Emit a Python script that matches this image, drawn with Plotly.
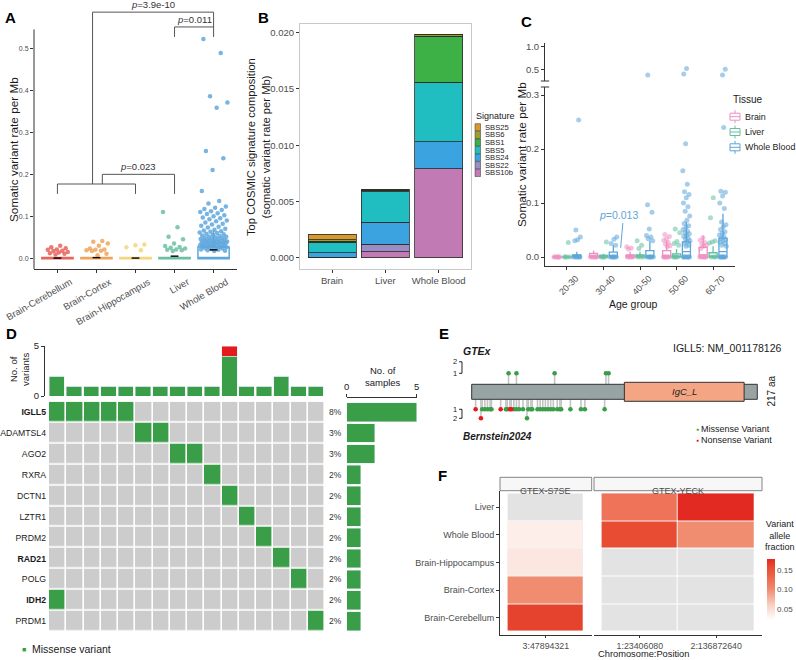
import plotly.graph_objects as go

W, H = 796, 660
FONT = "Liberation Sans, Arial, Helvetica, sans-serif"
GT = "#4D4D4D"   # tick label grey
AX = "#333333"   # axis line colour


def X(px):
    return px / W


def Y(py):
    return 1 - py / H


def jit(n, width, phase=0.0):
    # deterministic horizontal spread for dot positions (not values)
    return [(((k + 1) * 0.6180339887 + phase) % 1.0 - 0.5) * 2 * width for k in range(n)]


# ---------------- Panel A data ----------------
a_tissues = ["Brain-Cerebellum", "Brain-Cortex", "Brain-Hippocampus", "Liver", "Whole Blood"]
a_colors = ["#E7635B", "#EFA45B", "#F3D67D", "#6BC0A1", "#5EA7DD"]
a_q3 = [0.003, 0.003, 0.003, 0.003, 0.028]
a_median = [0.0, 0.0, 0.0, 0.0, 0.003]
a_upper = [0.003, 0.003, 0.003, 0.003, 0.068]
a_mean = [0.0015, 0.0025, 0.0015, 0.006, 0.021]
a_pts_cerebellum = [0.031, 0.027, 0.025, 0.022, 0.021, 0.019, 0.018, 0.016, 0.015, 0.013, 0.012, 0.010]
a_pts_cortex = [0.042, 0.040, 0.036, 0.031, 0.024, 0.022, 0.021, 0.020, 0.019, 0.018, 0.012, 0.008]
a_pts_hippocampus = [0.034, 0.032, 0.027, 0.020]
a_pts_liver = [0.111, 0.075, 0.052, 0.046, 0.036, 0.030, 0.028, 0.026, 0.024, 0.022, 0.021, 0.020, 0.018]
a_pts_blood = [0.522, 0.489, 0.386, 0.371, 0.359, 0.256, 0.239, 0.211, 0.161, 0.137, 0.131, 0.124,
               0.121, 0.118, 0.116, 0.113, 0.111, 0.108, 0.106, 0.103, 0.101, 0.098, 0.096, 0.094,
               0.091, 0.089, 0.086, 0.083, 0.081, 0.078, 0.076, 0.074, 0.071, 0.069, 0.067, 0.065,
               0.064, 0.062, 0.061, 0.059, 0.058, 0.057, 0.055, 0.054, 0.053, 0.052, 0.051, 0.050,
               0.049, 0.048, 0.047, 0.046, 0.045, 0.045, 0.044, 0.043, 0.042, 0.042, 0.041, 0.040,
               0.040, 0.039, 0.038, 0.038, 0.037, 0.036, 0.036, 0.035, 0.034, 0.034, 0.033, 0.032,
               0.032, 0.031, 0.030, 0.030, 0.029, 0.028, 0.028, 0.027, 0.026, 0.025, 0.024, 0.023,
               0.022, 0.021, 0.020, 0.019, 0.018]
a_points = [a_pts_cerebellum, a_pts_cortex, a_pts_hippocampus, a_pts_liver, a_pts_blood]
a_pvals = ["p=3.9e-10", "p=0.011", "p=0.023"]

# ---------------- Panel B data ----------------
b_tissues = ["Brain", "Liver", "Whole Blood"]
b_signatures = ["SBS10b", "SBS22", "SBS24", "SBS5", "SBS1", "SBS6", "SBS25"]  # bottom -> top
b_colors = ["#C27AB5", "#9C8CC6", "#3BA4E0", "#20BEC1", "#3DB146", "#9E9E30", "#D89A2B"]
b_sbs10b = [0.00003, 0.00053, 0.0079]
b_sbs22 = [0.00002, 0.00067, 0.0]
b_sbs24 = [0.00039, 0.00195, 0.0024]
b_sbs5 = [0.00094, 0.00273, 0.0053]
b_sbs1 = [0.00010, 0.00010, 0.0041]
b_sbs6 = [0.00010, 0.00005, 0.00010]
b_sbs25 = [0.00050, 0.00005, 0.00005]
b_values = [b_sbs10b, b_sbs22, b_sbs24, b_sbs5, b_sbs1, b_sbs6, b_sbs25]

# ---------------- Panel C data ----------------
c_ages = ["20-30", "30-40", "40-50", "50-60", "60-70"]
c_tissues = ["Brain", "Liver", "Whole Blood"]
c_colors = ["#EE8FC3", "#66C0A3", "#5DA5DA"]
c_brain_q3 = [0.0005, 0.007, 0.004, 0.012, 0.018]
c_brain_med = [0.0, 0.0, 0.0, 0.002, 0.004]
c_brain_up = [0.001, 0.012, 0.010, 0.030, 0.040]
c_liver_q3 = [0.0005, 0.003, 0.004, 0.006, 0.008]
c_liver_med = [0.0, 0.0, 0.0, 0.0, 0.0]
c_liver_up = [0.001, 0.006, 0.010, 0.015, 0.020]
c_blood_q3 = [0.004, 0.009, 0.012, 0.028, 0.035]
c_blood_med = [0.0, 0.0, 0.002, 0.010, 0.010]
c_blood_up = [0.010, 0.022, 0.030, 0.065, 0.080]
c_brain_pts = [
    [0, 0, 0, 0, 0, 0],
    [0, 0, 0, 0, 0, 0],
    [0.019, 0.017, 0.015, 0, 0, 0, 0, 0],
    [0.042, 0.038, 0.034, 0.031, 0.027, 0.024, 0.021, 0.019, 0, 0, 0, 0, 0, 0],
    [0.036, 0.031, 0.027, 0.024, 0.022, 0.020, 0.016, 0, 0, 0, 0, 0, 0],
]
c_liver_pts = [
    [0.027, 0, 0, 0, 0],
    [0.028, 0, 0, 0, 0],
    [0.030, 0.022, 0.016, 0, 0, 0],
    [0.052, 0.045, 0.029, 0.025, 0.022, 0, 0, 0, 0],
    [0.110, 0.073, 0.030, 0.028, 0.026, 0, 0, 0],
]
c_blood_pts = [
    [0.254, 0.050, 0.037, 0.032, 0.030, 0, 0, 0, 0, 0, 0],
    [0.037, 0.033, 0.025, 0.022, 0, 0, 0, 0, 0, 0],
    [0.097, 0.083, 0.052, 0.040, 0.037, 0.034, 0.030, 0, 0, 0, 0, 0, 0],
    [0.210, 0.160, 0.135, 0.121, 0.116, 0.110, 0.100, 0.093, 0.085, 0.076, 0.068, 0.062, 0.058,
     0.055, 0.051, 0.048, 0.045, 0.043, 0.040, 0.038, 0.035, 0.033, 0.030, 0.028, 0.025, 0.022,
     0.020, 0, 0, 0, 0, 0, 0, 0],
    [0.240, 0.122, 0.120, 0.113, 0.100, 0.090, 0.065, 0.060, 0.056, 0.051, 0.047, 0.044, 0.041,
     0.038, 0.035, 0.032, 0.030, 0.028, 0.025, 0.022, 0.020, 0, 0, 0, 0, 0, 0, 0],
]
c_blood_high = [[], [], [0.374], [0.520, 0.396], [0.500, 0.374]]

# ---------------- Panel D data ----------------
d_genes = ["IGLL5", "ADAMTSL4", "AGO2", "RXRA", "DCTN1", "LZTR1", "PRDM2", "RAD21", "POLG", "IDH2", "PRDM1"]
d_bold = ["IGLL5", "RAD21", "IDH2"]
d_pct = ["8%", "3%", "3%", "2%", "2%", "2%", "2%", "2%", "2%", "2%", "2%"]
d_samples = [5, 2, 2, 1, 1, 1, 1, 1, 1, 1, 1]
d_mut_cols = [[0, 1, 2, 3, 4], [5, 6], [7, 8], [9], [10], [11], [12], [13], [14], [0], [15]]
d_missense_per_sample = [2, 1, 1, 1, 1, 1, 1, 1, 1, 1, 4, 1, 1, 2, 1, 1]
d_other_per_sample = [0, 0, 0, 0, 0, 0, 0, 0, 0, 0, 1, 0, 0, 0, 0, 0]

# ---------------- Panel E data ----------------
e_length = 217
e_domain = [116, 207]
e_gtex_pos = [28, 34, 63, 102, 104]
e_gtex_cnt = [1, 1, 1, 1, 1]
e_bern_mis_pos = [8, 10, 12, 14, 15, 26, 27, 32, 34, 36, 39, 42, 43, 45, 46, 50, 52, 54, 56, 58,
                  60, 62, 65, 67, 68, 75, 83, 86, 101]
e_bern_mis_cnt = [1, 1, 1, 1, 1, 1, 1, 1, 1, 1, 1, 2, 1, 1, 1, 1, 1, 1, 1, 1,
                  1, 1, 1, 1, 1, 1, 1, 1, 1]
e_bern_non_pos = [3, 7, 22, 29, 30]
e_bern_non_cnt = [1, 2, 1, 1, 1]

# ---------------- Panel F data ----------------
f_rows = ["Brain-Cerebellum", "Brain-Cortex", "Brain-Hippocampus", "Whole Blood", "Liver"]
f_s7se_pos = ["3:47894321"]
f_yeck_pos = ["1:23406080", "2:136872640"]
f_s7se_vaf = [0.162, 0.100, 0.042, 0.036, None]
f_yeck_vaf_1 = [None, None, None, 0.155, 0.120]
f_yeck_vaf_2 = [None, None, None, 0.100, 0.178]

GREEN = "#3A9D47"
RED = "#E41A1C"

fig = go.Figure()
NOHOVER = dict(hoverinfo="skip", showlegend=False)

# ======== Panel A ========
for i in range(len(a_tissues)):
    col = a_colors[i]
    fig.add_trace(go.Box(x=[i], q1=[0], median=[a_median[i]], q3=[a_q3[i]], lowerfence=[0],
                         upperfence=[a_upper[i]], width=0.8, whiskerwidth=0, boxpoints=False,
                         line=dict(color=col, width=1.5), fillcolor="rgba(255,255,255,0)",
                         xaxis="x", yaxis="y", **NOHOVER))
    pts = a_points[i]
    w = 0.36 if i == 4 else 0.3
    fig.add_trace(go.Scatter(x=[i + j for j in jit(len(pts), w, i * 0.13)], y=pts, mode="markers",
                             marker=dict(color=col, size=4.5, opacity=0.85, line=dict(width=0)),
                             xaxis="x", yaxis="y", **NOHOVER))
    fig.add_trace(go.Scatter(x=[i - 0.1, i + 0.1], y=[a_mean[i], a_mean[i]], mode="lines",
                             line=dict(color="black", width=1.4), xaxis="x", yaxis="y", **NOHOVER))

# ======== Panel B ========
for s in range(len(b_signatures)):
    fig.add_trace(go.Bar(x=[0, 1, 2], y=b_values[s], width=0.9, marker=dict(color=b_colors[s],
                         line=dict(color="#2b2b2b", width=0.8)), xaxis="x2", yaxis="y2", **NOHOVER))

# ======== Panel C ========
c_off = [-0.27, 0.0, 0.27]
c_q3 = [c_brain_q3, c_liver_q3, c_blood_q3]
c_med = [c_brain_med, c_liver_med, c_blood_med]
c_up = [c_brain_up, c_liver_up, c_blood_up]
c_pts = [c_brain_pts, c_liver_pts, c_blood_pts]
for t in range(3):
    col = c_colors[t]
    xs, ys = [], []
    for g in range(5):
        vals = c_pts[t][g]
        xs += [g + c_off[t] + j for j in jit(len(vals), 0.1, g * 0.21 + t * 0.07)]
        ys += vals
    fig.add_trace(go.Scatter(x=xs, y=ys, mode="markers", marker=dict(color=col, size=5, opacity=0.55),
                             xaxis="x3", yaxis="y3", **NOHOVER))
    fig.add_trace(go.Box(x=[g + c_off[t] for g in range(5)], q1=[0] * 5, median=c_med[t], q3=c_q3[t],
                         lowerfence=[0] * 5, upperfence=c_up[t], width=0.22, whiskerwidth=0,
                         boxpoints=False, line=dict(color=col, width=1.3),
                         fillcolor="rgba(255,255,255,0)", xaxis="x3", yaxis="y3", **NOHOVER))
hx, hy = [], []
for g in range(5):
    vals = c_blood_high[g]
    hx += [g + c_off[2] + j for j in jit(len(vals), 0.1, g * 0.3)]
    hy += vals
fig.add_trace(go.Scatter(x=hx, y=hy, mode="markers", marker=dict(color=c_colors[2], size=5, opacity=0.55),
                         xaxis="x3", yaxis="y4", **NOHOVER))

# ======== Panel D ========
fig.add_trace(go.Bar(x=list(range(16)), y=d_missense_per_sample, width=0.886, marker=dict(color=GREEN),
                     xaxis="x5", yaxis="y5", **NOHOVER))
fig.add_trace(go.Bar(x=list(range(16)), y=d_other_per_sample, width=0.886, marker=dict(color=RED),
                     xaxis="x5", yaxis="y5", **NOHOVER))
d_z = [[1 if c in cols else 0 for c in range(16)] for cols in d_mut_cols]
fig.add_trace(go.Heatmap(z=d_z, x=list(range(16)), y=list(range(len(d_genes))), zmin=0, zmax=1,
                         colorscale=[[0, "#CCCCCC"], [0.5, "#CCCCCC"], [0.5, GREEN], [1, GREEN]],
                         showscale=False, xgap=1.6, ygap=1.6, xaxis="x6", yaxis="y6", hoverinfo="skip"))
fig.add_trace(go.Bar(x=d_samples, y=list(range(len(d_genes))), orientation="h", width=0.9,
                     marker=dict(color=GREEN), xaxis="x7", yaxis="y7", **NOHOVER))

# ======== Panel E ========
def head_y(cnt, top):
    return (0.7 + 1.15 * cnt) if top else -(0.85 + 0.9 * cnt)

stem_x, stem_y = [], []
for p, c in zip(e_gtex_pos, e_gtex_cnt):
    stem_x += [p, p, None]
    stem_y += [0.75, head_y(c, True), None]
for p, c in zip(e_bern_mis_pos + e_bern_non_pos, e_bern_mis_cnt + e_bern_non_cnt):
    stem_x += [p, p, None]
    stem_y += [-0.75, head_y(c, False), None]
fig.add_trace(go.Scatter(x=stem_x, y=stem_y, mode="lines", line=dict(color="#C4C4C4", width=1.6),
                         xaxis="x8", yaxis="y8", **NOHOVER))
fig.add_trace(go.Scatter(x=e_gtex_pos, y=[head_y(c, True) for c in e_gtex_cnt], mode="markers",
                         marker=dict(color=GREEN, size=4.6), xaxis="x8", yaxis="y8", **NOHOVER))
fig.add_trace(go.Scatter(x=e_bern_mis_pos, y=[head_y(c, False) for c in e_bern_mis_cnt], mode="markers",
                         marker=dict(color=GREEN, size=4.6), xaxis="x8", yaxis="y8", **NOHOVER))
fig.add_trace(go.Scatter(x=e_bern_non_pos, y=[head_y(c, False) for c in e_bern_non_cnt], mode="markers",
                         marker=dict(color=RED, size=4.6), xaxis="x8", yaxis="y8", **NOHOVER))

# ======== Panel F ========
f_bg1 = [[1] for _ in f_rows]
f_bg2 = [[1, 1] for _ in f_rows]
grey_cs = [[0, "#E3E3E3"], [1, "#E3E3E3"]]
fig.add_trace(go.Heatmap(z=f_bg1, x=[0], y=list(range(5)), colorscale=grey_cs, showscale=False,
                         xgap=1, ygap=1, xaxis="x9", yaxis="y9", hoverinfo="skip"))
fig.add_trace(go.Heatmap(z=[[v] for v in f_s7se_vaf], x=[0], y=list(range(5)), coloraxis="coloraxis",
                         xgap=1, ygap=1, xaxis="x9", yaxis="y9", hoverinfo="skip"))
fig.add_trace(go.Heatmap(z=f_bg2, x=[0, 1], y=list(range(5)), colorscale=grey_cs, showscale=False,
                         xgap=1, ygap=1, xaxis="x10", yaxis="y10", hoverinfo="skip"))
fig.add_trace(go.Heatmap(z=[[a, b] for a, b in zip(f_yeck_vaf_1, f_yeck_vaf_2)], x=[0, 1], y=list(range(5)),
                         coloraxis="coloraxis", xgap=1, ygap=1, xaxis="x10", yaxis="y10", hoverinfo="skip"))

# ---------------- axes ----------------
base_ax = dict(showgrid=False, zeroline=False, ticks="outside", ticklen=3, tickcolor=AX,
               linecolor=AX, linewidth=1, tickfont=dict(size=9, color=GT))


def ax(**kw):
    d = dict(base_ax)
    d.update(kw)
    return d


layout_axes = dict(
    xaxis=ax(domain=[X(34), X(237)], range=[-0.6, 4.6], anchor="y", tickvals=list(range(5)),
             ticktext=a_tissues, tickangle=-30, showline=True, tickfont=dict(size=9.5, color=GT),
             ticklabelshift=13),
    yaxis=ax(domain=[Y(269), Y(3)], range=[-0.0245, 0.6077], anchor="x", showline=False,
             tickvals=[0, 0.1, 0.2, 0.3, 0.4, 0.5], ticktext=["0.0", "0.1", "0.2", "0.3", "0.4", "0.5"],
             tickfont=dict(size=7, color=GT)),
    xaxis2=ax(domain=[X(300), X(470.7)], range=[-0.6, 2.6], anchor="y2", tickvals=[0, 1, 2],
              ticktext=b_tissues, showline=True, mirror=True, linecolor="#C9C9C9",
              tickfont=dict(size=9.5, color=GT)),
    yaxis2=ax(domain=[Y(269), Y(24)], range=[-0.001, 0.02077], anchor="x2", showline=True, mirror=True,
              linecolor="#C9C9C9", tickvals=[0, 0.005, 0.01, 0.015, 0.02],
              ticktext=["0.000", "0.005", "0.010", "0.015", "0.020"], tickfont=dict(size=9.5, color=GT)),
    xaxis3=ax(domain=[X(545), X(735)], range=[-0.6, 4.6], anchor="y3", tickvals=list(range(5)),
              ticktext=c_ages, tickangle=-45, showline=True, tickfont=dict(size=9, color=GT),
              ticklabelshift=9),
    yaxis3=ax(domain=[Y(265.7), Y(87)], range=[-0.016, 0.315], anchor="x3", showline=True,
              tickvals=[0, 0.1, 0.2, 0.3], ticktext=["0.0", "0.1", "0.2", "0.3"],
              tickfont=dict(size=9.5, color=GT)),
    yaxis4=ax(domain=[Y(81), Y(43.3)], range=[0.241, 1.075], anchor="x3", showline=True,
              tickvals=[0.5, 1.0], ticktext=["0.5", "1.0"], tickfont=dict(size=9.5, color=GT)),
    xaxis5=ax(domain=[X(45), X(325.3)], range=[-0.675, 15.556], anchor="y5", visible=False),
    yaxis5=ax(domain=[Y(396), Y(346)], range=[0, 5], anchor="x5", showline=True, tickvals=[0, 5],
              tickfont=dict(size=9.5, color="#222")),
    xaxis6=ax(domain=[X(49), X(325.3)], range=[-0.5, 15.5], anchor="y6", visible=False),
    yaxis6=ax(domain=[Y(631.7), Y(401.7)], range=[10.5, -0.5], anchor="x6", showline=False, ticks="",
              tickvals=list(range(len(d_genes))),
              ticktext=[("<b>%s</b>" % g) if g in d_bold else g for g in d_genes],
              tickfont=dict(size=8.7, color="#1a1a1a"), ticklabelstandoff=2),
    xaxis7=ax(domain=[X(346.7), X(416.7)], range=[0, 5], anchor="free", position=Y(396.7), side="top",
              showline=True, tickvals=[0, 5], tickfont=dict(size=9.5, color="#222")),
    yaxis7=ax(domain=[Y(631.7), Y(401.7)], range=[10.5, -0.5], anchor="x7", visible=False),
    xaxis8=ax(domain=[X(440), X(792)], range=[-24.09, 243.37], anchor="y8", visible=False),
    yaxis8=ax(domain=[Y(445), Y(335)], range=[-5.32, 5.68], anchor="x8", visible=False),
    xaxis9=ax(domain=[X(500), X(591.7)], range=[-0.6, 0.6], anchor="y9", showline=True, tickvals=[0],
              ticktext=f_s7se_pos, tickfont=dict(size=8.8, color=GT), ticklen=2.5),
    yaxis9=ax(domain=[Y(634.5), Y(490.7)], range=[-0.6, 4.6], anchor="x9", showline=True,
              tickvals=list(range(5)), ticktext=f_rows, tickfont=dict(size=9, color=GT)),
    xaxis10=ax(domain=[X(594), X(762)], range=[-0.6, 1.6], anchor="y10", showline=True, tickvals=[0, 1],
               ticktext=f_yeck_pos, tickfont=dict(size=8.8, color=GT), ticklen=2.5),
    yaxis10=ax(domain=[Y(634.5), Y(490.7)], range=[-0.6, 4.6], anchor="x10", showline=False, ticks="",
               showticklabels=False),
)

# ---------------- shapes ----------------
LN = dict(color="#555555", width=1)
shapes = [
    # A: left axis line (panel only, brackets sit above)
    dict(type="line", xref="x domain", x0=0, x1=0, yref="y", y0=-0.0245, y1=0.545, line=dict(color=AX, width=1)),
    # A: significance brackets
    dict(type="path", xref="x", yref="y", path="M 0,0.154 L 0,0.1775 L 2,0.1775 L 2,0.154", line=LN),
    dict(type="path", xref="x", yref="y", path="M 1.15,0.1775 L 1.15,0.2005 L 3,0.2005 L 3,0.154", line=LN),
    dict(type="path", xref="x", yref="y", path="M 0.9,0.1775 L 0.9,0.586 L 4,0.586 L 4,0.5508", line=LN),
    dict(type="path", xref="x", yref="y", path="M 3,0.527 L 3,0.5508 L 4,0.5508 L 4,0.527", line=LN),
    # C: axis break marks
    dict(type="line", xref="x3 domain", x0=-0.022, x1=0.022, yref="y4 domain", y0=0, y1=0, line=dict(color=AX, width=1)),
    dict(type="line", xref="x3 domain", x0=-0.022, x1=0.022, yref="y3 domain", y0=1, y1=1, line=dict(color=AX, width=1)),
    # C: p-value pointer
    dict(type="line", xref="x3", yref="y3", x0=1.53, y0=0.063, x1=1.47, y1=0.017,
         line=dict(color=c_colors[2], width=1)),
    # E: protein and domain
    dict(type="rect", xref="x8", yref="y8", x0=0, x1=e_length, y0=-0.75, y1=0.75,
         fillcolor="#98A4A4", line=dict(color="#333", width=1)),
    dict(type="rect", xref="x8", yref="y8", x0=e_domain[0], x1=e_domain[1], y0=-0.95, y1=0.95,
         fillcolor="#F3A584", line=dict(color="#333", width=1)),
    # E: count scale brackets
    dict(type="path", xref="x8", yref="y8", path="M -9.6,%f L -7.4,%f L -7.4,%f L -9.6,%f" % (
        head_y(2, True), head_y(2, True), head_y(1, True), head_y(1, True)), line=dict(color="#222", width=1)),
    dict(type="path", xref="x8", yref="y8", path="M -9.6,%f L -7.4,%f L -7.4,%f L -9.6,%f" % (
        head_y(1, False), head_y(1, False), head_y(2, False), head_y(2, False)), line=dict(color="#222", width=1)),
    # F: facet strips
    dict(type="rect", xref="x9 domain", x0=0, x1=1, yref="y9 domain", y0=1.0, y1=1.093,
         fillcolor="#F7F7F7", line=dict(color="#666", width=0.8)),
    dict(type="rect", xref="x10 domain", x0=0, x1=1, yref="y10 domain", y0=1.0, y1=1.093,
         fillcolor="#F7F7F7", line=dict(color="#666", width=0.8)),
]

# B legend keys (manual, tight spacing like ggplot)
b_leg_rows = [127.3, 134.9, 142.5, 150.1, 157.7, 165.3, 172.9]
for k, sig_i in enumerate(reversed(range(len(b_signatures)))):
    yc = b_leg_rows[k]
    shapes.append(dict(type="rect", xref="paper", yref="paper", x0=X(475), x1=X(480.5),
                       y0=Y(yc + 3.6), y1=Y(yc - 3.6), fillcolor=b_colors[sig_i],
                       line=dict(color="#333", width=0.5)))

# C legend keys (box glyphs)
c_leg_rows = [116.7, 132.0, 147.3]
for t, yc in enumerate(c_leg_rows):
    col = c_colors[t]
    shapes.append(dict(type="line", xref="paper", yref="paper", x0=X(735), x1=X(735), y0=Y(yc - 6.5),
                       y1=Y(yc + 6.5), line=dict(color=col, width=1)))
    shapes.append(dict(type="rect", xref="paper", yref="paper", x0=X(730), x1=X(740), y0=Y(yc + 3.5),
                       y1=Y(yc - 3.5), fillcolor="white", line=dict(color=col, width=1)))
    shapes.append(dict(type="line", xref="paper", yref="paper", x0=X(730), x1=X(740), y0=Y(yc), y1=Y(yc),
                       line=dict(color=col, width=1)))

# ---------------- annotations ----------------
ann = []


def txt(x, y, s, size=10, color="#1a1a1a", xanchor="center", yanchor="middle", angle=0, **kw):
    ann.append(dict(x=x, y=y, xref="paper", yref="paper", text=s, showarrow=False, xanchor=xanchor,
                    yanchor=yanchor, textangle=angle, font=dict(size=size, color=color), **kw))


# panel letters
for lab, px, py in [("A", 10, 17), ("B", 263, 17), ("C", 526, 21), ("D", 11, 333), ("E", 444, 333), ("F", 442, 475)]:
    txt(X(px), Y(py), "<b>%s</b>" % lab, size=15, color="black")

# A
txt(X(14), Y(150), "Somatic variant rate per Mb", size=11.8, angle=-90)
for s, xx, yy in [(a_pvals[0], 2.45, 0.586), (a_pvals[1], 3.5, 0.5508), (a_pvals[2], 2.075, 0.2005)]:
    ann.append(dict(x=xx, y=yy, xref="x", yref="y", text="<i>p</i>" + s[1:], showarrow=False,
                    yanchor="bottom", yshift=0, font=dict(size=9.5, color="#333")))

# B
txt(X(259), Y(147), "Top COSMIC signature composition<br>(somatic variant rate per Mb)", size=11.2, angle=-90)
txt(X(474.5), Y(116), "Signature", size=9, xanchor="left")
for k, sig_i in enumerate(reversed(range(len(b_signatures)))):
    txt(X(482.5), Y(b_leg_rows[k]), b_signatures[sig_i], size=7.6, xanchor="left")

# C
txt(X(522), Y(155), "Somatic variant rate per Mb", size=11.8, angle=-90)
txt(X(633), Y(304), "Age group", size=10.5)
ann.append(dict(x=1.40, y=0.063, xref="x3", yref="y3", text="<i>p</i>=0.013", showarrow=False,
                yanchor="bottom", font=dict(size=10.5, color=c_colors[2])))
txt(X(730.5), Y(99), "Tissue", size=10, xanchor="left")
for t, yc in enumerate(c_leg_rows):
    txt(X(743), Y(yc), c_tissues[t], size=8.9, xanchor="left")

# D
txt(X(19), Y(369), "No. of<br>variants", size=9.5, angle=-90)
txt(X(383), Y(376), "No. of<br>samples", size=9.5)
for i, p in enumerate(d_pct):
    ann.append(dict(x=1.0, y=i, xref="x6 domain", yref="y6", text=p, showarrow=False, xanchor="left",
                    xshift=1.5, font=dict(size=8.5, color="#333")))
txt(X(20), Y(649), '<span style="color:%s">■</span>' % GREEN, size=7, xanchor="left")
txt(X(29.5), Y(649), "Missense variant", size=10.5, xanchor="left")

# E
txt(X(460.5), Y(351), "<b><i>GTEx</i></b>", size=10.5, xanchor="left")
txt(X(460.5), Y(436), "<b><i>Bernstein2024</i></b>", size=10, xanchor="left")
txt(X(784), Y(348), "IGLL5: NM_001178126", size=10.5, xanchor="right")
txt(X(770.5), Y(391), "217 aa", size=10, angle=-90)
ann.append(dict(x=(e_domain[0] + e_domain[1]) / 2, y=0, xref="x8", yref="y8", text="<i>IgC_L</i>",
                showarrow=False, font=dict(size=9.5, color="#222")))
for lab, yy in [("2", head_y(2, True)), ("1", head_y(1, True)), ("1", head_y(1, False)), ("2", head_y(2, False))]:
    ann.append(dict(x=-12.5, y=yy, xref="x8", yref="y8", text=lab, showarrow=False,
                    font=dict(size=7.5, color="#222")))
txt(X(693.5), Y(428.5), '<span style="color:%s">●</span>' % GREEN, size=5, xanchor="left")
txt(X(699), Y(428.5), "Missense Variant", size=9, xanchor="left")
txt(X(693.5), Y(439.5), '<span style="color:%s">●</span>' % RED, size=5, xanchor="left")
txt(X(699), Y(439.5), "Nonsense Variant", size=9, xanchor="left")

# F
ann.append(dict(x=0.5, y=1.0465, xref="x9 domain", yref="y9 domain", text="GTEX-S7SE", showarrow=False,
                font=dict(size=9, color=GT)))
ann.append(dict(x=0.5, y=1.0465, xref="x10 domain", yref="y10 domain", text="GTEX-YECK", showarrow=False,
                font=dict(size=9, color=GT)))
txt(X(643), Y(654), "Chromosome:Position", size=9.3)
txt(X(763), Y(535), "Variant<br>allele<br>fraction", size=9, xanchor="left")

fig.update_layout(
    width=W, height=H,
    margin=dict(l=0, r=0, t=0, b=0, autoexpand=False),
    paper_bgcolor="white", plot_bgcolor="white",
    font=dict(family=FONT, size=10, color="#1a1a1a"),
    barmode="stack", boxmode="overlay", showlegend=False,
    shapes=shapes, annotations=ann,
    coloraxis=dict(
        cmin=0.022, cmax=0.178,
        colorscale=[[0, "#FFFFFF"], [0.25, "#F9CFC2"], [0.5, "#F08C70"], [0.625, "#EE7459"],
                    [0.85, "#E84E33"], [1, "#E32A22"]],
        colorbar=dict(x=X(767), xanchor="left", y=Y(620), yanchor="bottom", len=61, lenmode="pixels",
                      thickness=8, thicknessmode="pixels", outlinewidth=0, xpad=0, ypad=0,
                      tickvals=[0.05, 0.10, 0.15], ticktext=["0.05", "0.10", "0.15"], ticks="",
                      tickfont=dict(size=8, color=GT)),
    ),
    **layout_axes,
)

fig.write_html("out.html", config={"displayModeBar": False},
               post_script="document.body.style.margin='0px';")
